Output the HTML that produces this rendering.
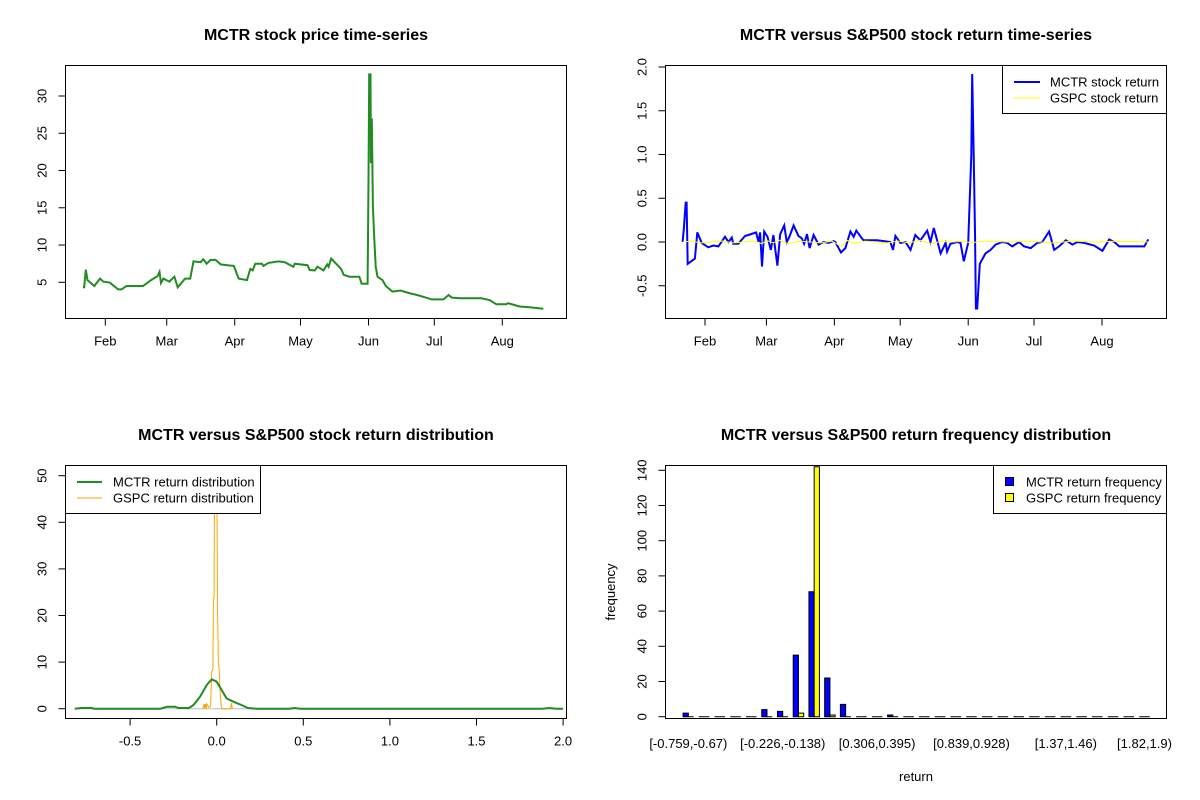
<!DOCTYPE html>
<html>
<head>
<meta charset="utf-8">
<style>
  html, body { margin: 0; padding: 0; background: #fff; }
  svg { display: block; font-family: "Liberation Sans", Arial, sans-serif; }
  .title { font-size: 16px; font-weight: bold; text-anchor: middle; }
  .tick { font-size: 13px; }
  .frame { fill: none; stroke: #000; stroke-width: 1; }
</style>
</head>
<body>
<svg id="chart" width="1200" height="800" viewBox="0 0 1200 800" xmlns="http://www.w3.org/2000/svg">
  <rect width="1200" height="800" fill="#fff"/>
</svg>
<script>
// ---------- Panel 1: MCTR price (day-of-year, price) ----------
const priceDays = [21.8,22.4,23.1,23.9,27.0,29.6,31.1,34.1,37.9,39.4,41.6,49.2,52.9,55.9,56.7,57.4,58.5,61.2,63.5,65.0,68.4,70.7,72.2,75.5,76.7,78.2,80.0,82.3,84.6,87.6,90.6,92.8,96.6,98.1,99.2,100.4,103.4,104.1,106.4,110.9,113.9,117.7,118.4,124.2,125.2,127.5,128.7,131.5,133.2,133.8,135.0,139.5,140.7,143.3,147.8,148.9,151.6,152.0,152.3,152.9,153.1,153.5,154.0,154.6,155.3,156.1,158.4,159.9,162.9,166.6,171.2,174.2,180.9,186.2,188.5,190.0,193.7,203.5,207.3,210.3,214.8,215.6,220.9,225.4,231.7];
const priceVals = [4.33,4.33,6.7,5.3,4.5,5.5,5.1,4.95,4.05,4.05,4.5,4.5,5.3,5.85,6.4,4.9,5.5,5.1,5.75,4.33,5.5,5.5,7.8,7.7,8.1,7.5,8.0,8.0,7.4,7.3,7.2,5.5,5.3,6.8,6.6,7.5,7.5,7.2,7.6,7.8,7.7,7.1,7.5,7.3,6.65,6.6,7.1,6.6,7.4,7.1,8.2,6.8,6.0,5.75,5.75,4.8,4.8,18.7,32.9,32.9,21,27,15.2,11.1,7.1,5.75,5.3,4.5,3.75,3.9,3.5,3.3,2.7,2.7,3.3,2.95,2.85,2.85,2.6,2.05,2.05,2.2,1.75,1.65,1.45];
const priceTicks = [5,10,15,20,25,30];
const monthLabels = ["Feb","Mar","Apr","May","Jun","Jul","Aug"];
const monthDays = [32,60,91,121,152,182,213];

// ---------- Panel 2: returns ----------
const retDays = [21.8,22.4,23.2,23.6,24.1,27.4,28.5,30.5,33.5,35.8,38.1,41.1,42.7,44.2,44.9,47.2,50.3,51.8,55.3,56.4,57.1,58.0,59.0,60.5,62.0,63.2,65.0,66.3,68.1,69.3,70.5,72.4,74.6,76.2,77.2,78.5,79.7,81.5,83.8,86.1,88.4,90.6,91.4,94.0,96.0,98.3,99.8,101.0,103.6,104.3,107.4,110.4,113.5,116.5,117.7,118.8,121.1,123.4,125.7,127.9,130.2,133.3,134.8,136.3,137.8,139.4,141.7,142.4,143.9,147.0,148.5,150.0,152.0,153.4,153.8,154.5,155.1,155.5,156.1,157.3,159.9,162.2,164.5,167.5,169.8,172.1,175.2,177.4,180.5,183.5,185.8,188.9,191.2,193.4,196.5,199.5,201.8,204.9,209.4,213.2,216.3,218.6,220.9,232.3,234.1];
const mctrRet = [0,0.16,0.45,0.45,-0.25,-0.19,0.11,-0.01,-0.06,-0.04,-0.05,0.06,0,0.05,-0.02,-0.02,0.07,0.08,0.11,0,0.11,-0.28,0.12,0.06,-0.09,0.08,-0.27,0.09,0.19,0,0.06,0.19,0.07,0.04,-0.02,0.09,-0.07,0.08,-0.03,0,-0.01,0.01,0,-0.12,-0.07,0.12,0.06,0.13,0.04,0.02,0.02,0.02,0.01,0,-0.09,0.07,-0.01,0,-0.09,0.08,0.02,0.13,0,0.16,0.02,-0.13,-0.01,-0.11,-0.02,0,-0.01,-0.22,-0.01,0.99,1.92,0.99,0.11,-0.76,-0.76,-0.25,-0.13,-0.09,-0.03,0,-0.01,-0.05,0,-0.05,-0.07,-0.01,0,0.12,-0.09,-0.05,0.02,-0.03,0,-0.01,-0.04,-0.10,0.03,0,-0.05,-0.05,0.03];
const gspcDays = [21.8,26,30,35,40,45,50,55,58,60,63,66,70,75,80,85,90,94,97,100,105,110,115,120,125,130,135,140,145,150,153,156,160,170,180,190,200,210,220,234.1];
const gspcRet = [0,0.01,-0.01,0,0.01,-0.01,0,0.01,-0.02,0.02,-0.01,0.02,-0.02,0.01,0,-0.01,0.01,-0.05,0.02,-0.02,0.01,0,-0.01,0.01,-0.01,0.02,-0.02,0.01,0,0.01,-0.01,0,0.01,0,0.01,-0.01,0.01,0,0.01,0];
const retTicks = [-0.5,0,0.5,1,1.5,2];
const retTickLabels = ["-0.5","0.0","0.5","1.0","1.5","2.0"];

// ---------- Panel 3: density ----------
const mctrDensX = [-0.82,-0.78,-0.72,-0.71,-0.325,-0.287,-0.24,-0.22,-0.16,-0.134,-0.096,-0.057,-0.029,0,0.029,0.057,0.096,0.143,0.18,0.23,0.42,0.45,0.48,1.88,1.92,1.96,2.0];
const mctrDensY = [0,0.14,0.14,0,0,0.43,0.43,0.14,0.14,0.8,2.6,5.1,6.3,5.8,4.0,2.2,1.5,0.8,0.15,0,0,0.15,0,0,0.15,0,0];
const gspcDensX = [-0.08,-0.073,-0.07,-0.065,-0.06,-0.057,-0.045,-0.035,-0.029,-0.022,-0.019,-0.015,-0.013,-0.008,0,0.005,0.01,0.015,0.019,0.025,0.029,0.08,0.085,0.09];
const gspcDensY = [0,1.0,0,1.0,0,1.0,0.3,0.5,8,8.5,23,24,45,55,55,20,10,8,4,1,0,0,1.2,0];
const densXTicks = [-0.5,0,0.5,1,1.5,2];
const densXLabels = ["-0.5","0.0","0.5","1.0","1.5","2.0"];
const densYTicks = [0,10,20,30,40,50];

// ---------- Panel 4: histogram ----------
const binLabels = ["[-0.759,-0.67)","[-0.226,-0.138)","[0.306,0.395)","[0.839,0.928)","[1.37,1.46)","[1.82,1.9)"];
const binLabelIdx = [0,6,12,18,24,29];
const mctrFreq = [2,0,0,0,0,4,3,35,71,22,7,0,0,1,0,0,0,0,0,0,0,0,0,0,0,0,0,0,0,0];
const gspcFreq = [0,0,0,0,0,0,0,2,142,1,0,0,0,0,0,0,0,0,0,0,0,0,0,0,0,0,0,0,0,0];
const freqTicks = [0,20,40,60,80,100,120,140];

const NS = "http://www.w3.org/2000/svg";
const svg = document.getElementById("chart");
function el(tag, attrs, parent) {
  const e = document.createElementNS(NS, tag);
  for (const k in attrs) e.setAttribute(k, attrs[k]);
  (parent || svg).appendChild(e);
  return e;
}
function txt(s, x, y, cls, anchor, rot, parent) {
  const t = el("text", {x: x, y: y, class: cls, "text-anchor": anchor || "middle"}, parent);
  if (rot) t.setAttribute("transform", "rotate(-90 " + x + " " + y + ")");
  t.textContent = s;
  return t;
}
function lin(d0, d1, r0, r1) { return v => r0 + (v - d0) * (r1 - r0) / (d1 - d0); }
function pathFrom(xs, ys, fx, fy) {
  return xs.map((v, i) => (i ? "L" : "M") + fx(v).toFixed(1) + " " + fy(ys[i]).toFixed(1)).join(" ");
}
function yAxis(g, ticks, labels, fy, x0) {
  ticks.forEach((t, i) => {
    el("line", {x1: x0 - 7, x2: x0, y1: fy(t), y2: fy(t), stroke: "#000"}, g);
    const tl = txt(labels[i], x0 - 19, fy(t), "tick", "middle", true, g);
    
    
  });
}
function xAxis(g, ticks, labels, fx, y0) {
  ticks.forEach((t, i) => {
    el("line", {x1: fx(t), x2: fx(t), y1: y0, y2: y0 + 7, stroke: "#000"}, g);
    const tl = txt(labels[i], fx(t), y0 + 27, "tick", "middle", false, g);
    
    
  });
}
function clip(id, x, y, w, h) {
  const cp = el("clipPath", {id: id});
  el("rect", {x: x, y: y, width: w, height: h}, cp);
}

// Panel 1
{
  const g = el("g", {});
  
  
  const L = 65.5, R = 566.5, T = 65.5, B = 318.5;
  const fx = lin(32, 213, 105.3, 502.3), fy = lin(5, 30, 282.3, 96);
  const t = txt("MCTR stock price time-series", 316, 40, "title", "middle", false, g);
  
  
  clip("c1", L, T, R - L, B - T);
  const p = el("path", {d: pathFrom(priceDays, priceVals, fx, fy), fill: "none", stroke: "#228B22", "stroke-width": 2, "clip-path": "url(#c1)"}, g);
  
  
  el("rect", {x: L, y: T, width: R - L, height: B - T, class: "frame"}, g);
  yAxis(g, priceTicks, priceTicks.map(String), fy, L);
  xAxis(g, monthDays, monthLabels, fx, B);
}

// Panel 2
{
  const g = el("g", {});
  
  
  const L = 665.5, R = 1166.5, T = 65.5, B = 318.5;
  const fx = lin(32, 213, 705, 1102), fy = lin(0, 2, 242, 67);
  const t = txt("MCTR versus S&P500 stock return time-series", 916, 40, "title", "middle", false, g);
  
  
  clip("c2", L, T, R - L, B - T);
  const p1 = el("path", {d: pathFrom(retDays, mctrRet, fx, fy), fill: "none", stroke: "#0000FF", "stroke-width": 2, "clip-path": "url(#c2)"}, g);
  
  
  const p2 = el("path", {d: pathFrom(gspcDays, gspcRet, fx, fy), fill: "none", stroke: "#FFFF00", "stroke-width": 1, "clip-path": "url(#c2)"}, g);
  
  
  el("rect", {x: L, y: T, width: R - L, height: B - T, class: "frame"}, g);
  yAxis(g, retTicks, retTickLabels, fy, L);
  xAxis(g, monthDays, monthLabels, fx, B);
  const lg = el("g", {}, g);
  
  
  el("rect", {x: 1002.5, y: 65.5, width: 164, height: 48, fill: "#fff", stroke: "#000"}, lg);
  el("line", {x1: 1014, x2: 1040, y1: 82, y2: 82, stroke: "#0000FF", "stroke-width": 2}, lg);
  el("line", {x1: 1014, x2: 1040, y1: 98, y2: 98, stroke: "#FFFF00", "stroke-width": 1}, lg);
  const a = txt("MCTR stock return", 1050, 86.5, "tick", "start", false, lg);
  
  
  const b = txt("GSPC stock return", 1050, 102.5, "tick", "start", false, lg);
  
  
}

// Panel 3
{
  const g = el("g", {});
  
  
  const L = 65.5, R = 566.5, T = 465.5, B = 718.5;
  const fx = lin(0, 0.5, 216.7, 303.3), fy = lin(0, 10, 708.7, 662.1);
  const t = txt("MCTR versus S&P500 stock return distribution", 316, 440, "title", "middle", false, g);
  
  
  clip("c3", L, T, R - L, B - T);
  el("line", {x1: fx(-0.82), x2: fx(2.0), y1: fy(0), y2: fy(0), stroke: "#bebebe", "clip-path": "url(#c3)"}, g);
  const p2 = el("path", {d: pathFrom(gspcDensX, gspcDensY, fx, fy), fill: "none", stroke: "#FFA500", "stroke-width": 1, "clip-path": "url(#c3)"}, g);
  
  
  const p1 = el("path", {d: pathFrom(mctrDensX, mctrDensY, fx, fy), fill: "none", stroke: "#228B22", "stroke-width": 2, "clip-path": "url(#c3)"}, g);
  
  
  el("rect", {x: L, y: T, width: R - L, height: B - T, class: "frame"}, g);
  yAxis(g, densYTicks, densYTicks.map(String), fy, L);
  xAxis(g, densXTicks, densXLabels, fx, B);
  const lg = el("g", {}, g);
  
  
  el("rect", {x: 65.5, y: 465.5, width: 195, height: 48, fill: "#fff", stroke: "#000"}, lg);
  el("line", {x1: 77, x2: 102, y1: 482, y2: 482, stroke: "#228B22", "stroke-width": 2}, lg);
  el("line", {x1: 77, x2: 102, y1: 498, y2: 498, stroke: "#FFA500", "stroke-width": 1}, lg);
  const a = txt("MCTR return distribution", 113, 486.5, "tick", "start", false, lg);
  
  
  const b = txt("GSPC return distribution", 113, 502.5, "tick", "start", false, lg);
  
  
}

// Panel 4
{
  const g = el("g", {});
  
  
  const L = 665.5, R = 1166.5, T = 465.5, B = 718.5;
  const fy = lin(0, 140, 716.7, 470.3);
  const w = 5.24, gap = 15.73, x0 = 683.1;
  const fxGroup = i => x0 + i * gap;
  const barPath = (x, v) => "M" + x.toFixed(2) + " " + fy(0).toFixed(2) + " V" + fy(v).toFixed(2) + " H" + (x + w).toFixed(2) + " V" + fy(0).toFixed(2) + " Z";
  const t = txt("MCTR versus S&P500 return frequency distribution", 916, 440, "title", "middle", false, g);
  
  
  clip("c4", L, T, R - L, B - T);
  const bars = el("g", {"clip-path": "url(#c4)"}, g);
  mctrFreq.forEach((v, i) => {
    const r = el("path", {d: barPath(fxGroup(i), v), fill: "#0000FF", stroke: "#000", "stroke-width": 1}, bars);
    
    
  });
  gspcFreq.forEach((v, i) => {
    const r = el("path", {d: barPath(fxGroup(i) + w, v), fill: "#FFFF00", stroke: "#000", "stroke-width": 1}, bars);
    
    
  });
  el("rect", {x: L, y: T, width: R - L, height: B - T, class: "frame"}, g);
  yAxis(g, freqTicks, freqTicks.map(String), fy, L);
  binLabelIdx.forEach((bi, k) => {
    const tl = txt(binLabels[k], fxGroup(bi) + w, 748, "tick", "middle", false, g);
    
    
  });
  const xt = txt("return", 916, 781, "tick", "middle", false, g);
  
  
  const yt = txt("frequency", 615, 592, "tick", "middle", true, g);
  
  
  const lg = el("g", {}, g);
  
  
  el("rect", {x: 993.5, y: 465.5, width: 173, height: 48, fill: "#fff", stroke: "#000"}, lg);
  el("rect", {x: 1005.5, y: 477.5, width: 8, height: 8, fill: "#0000FF", stroke: "#000"}, lg);
  el("rect", {x: 1005.5, y: 493.5, width: 8, height: 8, fill: "#FFFF00", stroke: "#000"}, lg);
  const a = txt("MCTR return frequency", 1026, 486.5, "tick", "start", false, lg);
  
  
  const b = txt("GSPC return frequency", 1026, 502.5, "tick", "start", false, lg);
  
  
}
</script>
</body>
</html>
